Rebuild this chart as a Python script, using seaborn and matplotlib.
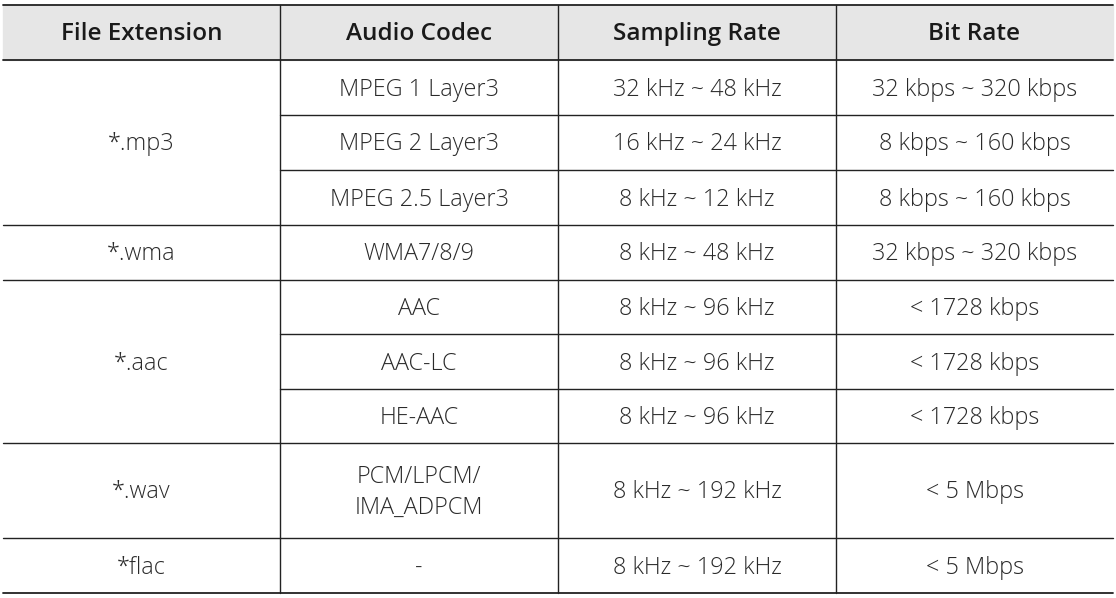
import matplotlib
matplotlib.use("Agg")
import matplotlib.pyplot as plt
import seaborn as sns

sns.set_theme(style="white")
plt.rcParams['font.family'] = ['Open Sans', 'DejaVu Sans']

headers = ["File Extension", "Audio Codec", "Sampling Rate", "Bit Rate"]
extensions = ["*.mp3", "*.wma", "*.aac", "*.wav", "*flac"]
ext_rows = [3, 1, 3, 1, 1]
codecs = ["MPEG 1 Layer3", "MPEG 2 Layer3", "MPEG 2.5 Layer3", "WMA7/8/9",
          "AAC", "AAC-LC", "HE-AAC", "PCM/LPCM/\nIMA_ADPCM", "-"]
sampling = ["32 kHz ~ 48 kHz", "16 kHz ~ 24 kHz", "8 kHz ~ 12 kHz", "8 kHz ~ 48 kHz",
            "8 kHz ~ 96 kHz", "8 kHz ~ 96 kHz", "8 kHz ~ 96 kHz", "8 kHz ~ 192 kHz",
            "8 kHz ~ 192 kHz"]
bitrate = ["32 kbps ~ 320 kbps", "8 kbps ~ 160 kbps", "8 kbps ~ 160 kbps",
           "32 kbps ~ 320 kbps", "< 1728 kbps", "< 1728 kbps", "< 1728 kbps",
           "< 5 Mbps", "< 5 Mbps"]
row_h = [55, 55, 55, 55, 54, 55, 54, 95, 55]

W, H = 1116, 598
fig = plt.figure(figsize=(W / 100, H / 100), dpi=100)
ax = fig.add_axes([0, 0, 1, 1])
ax.set_xlim(0, W)
ax.set_ylim(H, 0)
ax.axis("off")

cols = [3, 280, 558, 836, 1113]
top, head_b = 5, 60
lc = "#222222"

ax.fill_between([cols[0], cols[-1]], top, head_b, color="#e6e6e6", zorder=0)
for i, h in enumerate(headers):
    ax.text((cols[i] + cols[i + 1]) / 2, (top + head_b) / 2 + 2, h, ha="center",
            va="center", fontsize=17.5, fontweight="semibold", color="#1a1a1a")

ys = [head_b]
for h in row_h:
    ys.append(ys[-1] + h)

ax.plot([cols[0], cols[-1]], [top, top], color=lc, lw=1.3)
ax.plot([cols[0], cols[-1]], [head_b, head_b], color=lc, lw=1.3)
ax.plot([cols[0], cols[-1]], [ys[-1], ys[-1]], color=lc, lw=1.3)
ext_bounds = [0]
for n in ext_rows:
    ext_bounds.append(ext_bounds[-1] + n)
for k in range(1, len(ys) - 1):
    x0 = cols[0] if k in ext_bounds else cols[1]
    ax.plot([x0, cols[-1]], [ys[k], ys[k]], color=lc, lw=1.0)
for c in cols[1:-1]:
    ax.plot([c, c], [top, ys[-1]], color=lc, lw=1.0)

tk = dict(ha="center", va="center", fontsize=16.8, fontweight="light",
          color="#2a2a2a", linespacing=1.4)
for j, e in enumerate(extensions):
    y0, y1 = ys[ext_bounds[j]], ys[ext_bounds[j + 1]]
    ax.text((cols[0] + cols[1]) / 2, (y0 + y1) / 2 + 2, e, **tk)
for r in range(len(codecs)):
    yc = (ys[r] + ys[r + 1]) / 2 + 2
    ax.text((cols[1] + cols[2]) / 2, yc, codecs[r], **tk)
    ax.text((cols[2] + cols[3]) / 2, yc, sampling[r], **tk)
    ax.text((cols[3] + cols[4]) / 2, yc, bitrate[r], **tk)

fig.savefig("out.png", dpi=100, facecolor="white")
